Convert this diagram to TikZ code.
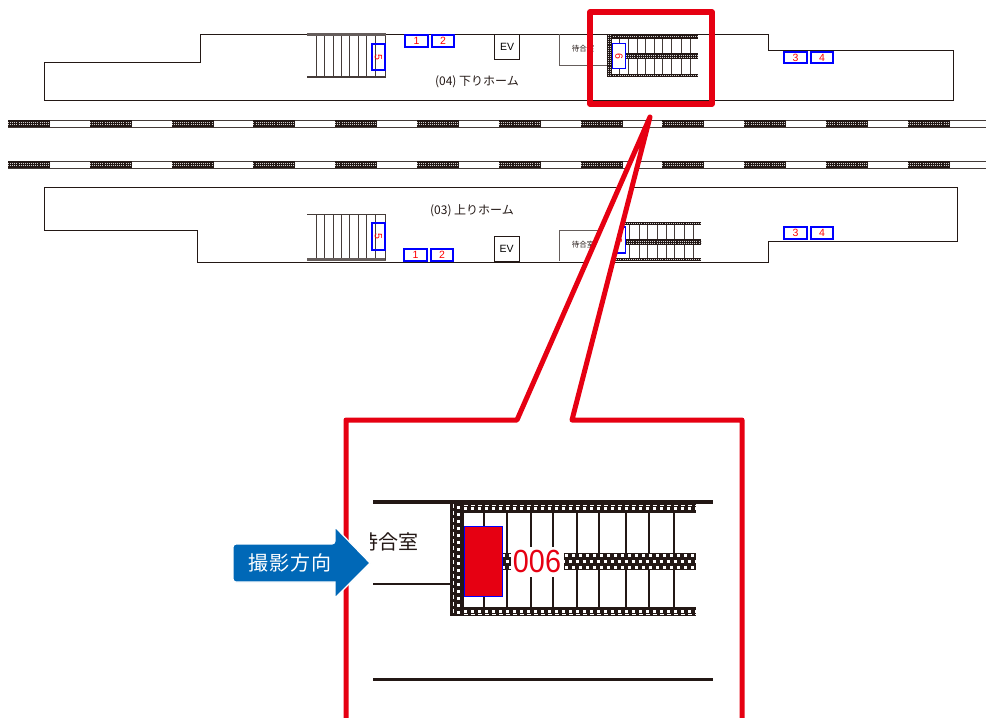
\documentclass[tikz,border=0pt]{standalone}
\usepackage{fontspec}
\setmainfont{Liberation Sans}
\newfontfamily\cjk{Noto Sans CJK JP}
\definecolor{ink}{HTML}{231815}
\definecolor{markred}{HTML}{E60012}
\definecolor{gateblue}{HTML}{0000FF}
\definecolor{arrowblue}{HTML}{0068B7}
\tikzset{
  wall/.style={draw=ink, line width=1},
  stairline/.style={ink!85, line width=0.9},
  gatebox/.style={draw=gateblue, line width=1.2, text=red, inner sep=0pt, font=\fontsize{10.5}{10.5}\selectfont},
  evbox/.style={draw=ink, line width=0.9, fill=white, inner sep=0pt, minimum width=25pt, minimum height=25pt, font=\fontsize{10.5}{10.5}\selectfont},
  roomtext/.style={text=ink, inner sep=0pt, font=\cjk\fontsize{7.5}{8}\selectfont},
  hometext/.style={text=ink, inner sep=0pt, font=\cjk\fontsize{12}{12}\selectfont},
  tinydots/.style={white!80!ink, line width=0.8, dash pattern=on 0.9pt off 1.2pt},
  bigdots/.style={white, line width=3, dash pattern=on 3pt off 4pt},
  edgedots/.style={white, line width=1, dash pattern=on 4pt off 3pt},
  redframe/.style={draw=markred, line width=5.5, line join=round},
}
\newcommand{\hband}[6]{%
  \fill[ink] (#1,#3) rectangle (#2,#4);
  \foreach \r in {#5} \draw[#6] (#1,\r) -- (#2,\r);}
\newcommand{\vband}[6]{%
  \fill[ink] (#1,#3) rectangle (#2,#4);
  \foreach \r in {#5} \draw[#6] (\r,#3) -- (\r,#4);}
\begin{document}
\begin{tikzpicture}[x=1pt,y=-1pt]
\useasboundingbox (0,0) rectangle (986,718);
% Platform Outlines
\draw[wall] (44,62) -- (200,62) -- (200,34) -- (768,34) -- (768,50) -- (953,50) -- (953,100) -- (44,100) -- cycle;
\draw[wall] (44,187) -- (957,187) -- (957,241) -- (768,241) -- (768,262) -- (197,262) -- (197,230) -- (44,230) -- cycle;
% Rails
\foreach \y in {120,161} {
  \draw[stairline] (8,\y) -- (986,\y);
  \draw[stairline] (8,\y+7) -- (986,\y+7);
  \foreach \i in {0,...,11} {
    \pgfmathsetmacro{\xa}{8+81.8*\i}
    \pgfmathsetmacro{\xb}{\xa+42}
    \hband{\xa}{\xb}{\y}{\y+7}{\y+2.2,\y+4.8}{tinydots}
  }
}
% Upper Platform, Left Stairs
\fill[ink!70] (307,33) rectangle (386,36);
\draw[stairline, line width=1.6] (307,77) -- (386,77);
\draw[stairline] (385.5,36) -- (385.5,78);
\foreach \x in {316,324,333,341,349,358,366,375} \draw[stairline] (\x,36) -- (\x,76);
\node[gatebox, minimum width=13pt, minimum height=26pt] (gateFive) at (378.5,57) {\rotatebox{-90}{5}};
% Upper Platform, Boxes
\node[gatebox, minimum width=23pt, minimum height=12pt] (gateOne) at (416.5,41) {1};
\node[gatebox, minimum width=22pt, minimum height=12pt] (gateTwo) at (443,41) {2};
\node[evbox] (evUp) at (507,46.5) {EV};
\node[gatebox, minimum width=23pt, minimum height=11pt] (gateThree) at (795.5,57.5) {3};
\node[gatebox, minimum width=22pt, minimum height=11pt] (gateFour) at (822,57.5) {4};
\node[hometext] (homeDown) at (477,82) {(04) 下りホーム};
% Upper Platform, Waiting Room
\draw[wall, draw=ink!70] (559,34) -- (559,65) -- (607,65);
\node[roomtext] (roomUp) at (583,49) {待合室};
% Upper Platform, Right Stairs
\foreach \x in {619,628,637,645,654,662,671,681,690} \draw[stairline] (\x,37) -- (\x,75);
\hband{607}{698}{35}{38.5}{36.7}{tinydots}
\hband{626}{698}{53}{59}{55,57.2}{tinydots}
\hband{607}{698}{73.5}{77}{75.2}{tinydots}
\vband{607}{612}{35}{77}{608.6,610.6}{tinydots}
\node[gatebox, fill=white, minimum width=13.5pt, minimum height=25pt] (gateSix) at (619,56) {\rotatebox{-90}{6}};
% Lower Platform, Left Stairs
\draw[stairline] (307,214) -- (386,214);
\fill[ink!70] (307,258) rectangle (386,261);
\draw[stairline] (385.5,214) -- (385.5,260);
\foreach \x in {316,324,333,341,349,358,366,375} \draw[stairline] (\x,215) -- (\x,258);
\node[gatebox, minimum width=13pt, minimum height=27pt] (gateFiveLow) at (378.5,236.5) {\rotatebox{-90}{5}};
% Lower Platform, Boxes
\node[gatebox, minimum width=23pt, minimum height=12pt] (gateOneLow) at (415.5,255) {1};
\node[gatebox, minimum width=22pt, minimum height=12pt] (gateTwoLow) at (442,255) {2};
\node[evbox] (evLow) at (506.5,248.5) {EV};
\node[gatebox, minimum width=23pt, minimum height=12pt] (gateThreeLow) at (795.5,233) {3};
\node[gatebox, minimum width=22pt, minimum height=12pt] (gateFourLow) at (822,233) {4};
\node[hometext] (homeUp) at (472,211) {(03) 上りホーム};
% Lower Platform, Waiting Room
\draw[wall, draw=ink!70] (559,261) -- (559,230) -- (617,230);
\node[roomtext] (roomLow) at (583,245) {待合室};
% Lower Platform, Right Stairs
\foreach \x in {629,639,647,657,666,674,684,693} \draw[stairline] (\x,223) -- (\x,259);
\hband{612}{701}{221.5}{225}{223.2}{tinydots}
\hband{625}{701}{239}{245}{241,243.2}{tinydots}
\hband{612}{701}{258}{261}{259.5}{tinydots}
\vband{607}{612}{221.5}{261}{608.6,610.6}{tinydots}
\node[gatebox, fill=white, minimum width=13.5pt, minimum height=26pt] (gateSixLow) at (618.5,240) {\rotatebox{-90}{6}};
% Marker and Callout
\draw[redframe] (590,12) rectangle (712,104);
\draw[redframe, line width=5, fill=white] (346,718) -- (346,420) -- (517,420) -- (650,117) -- (572,420) -- (742,420) -- (742,718);
% Enlarged View
\draw[ink, line width=4] (373,502) -- (713,502);
\draw[ink, line width=3] (373,679) -- (713,679);
\draw[ink, line width=1.3] (373,584) -- (450,584);
\begin{scope}
  \clip (370,520) rectangle (440,570);
  \node[text=ink, inner sep=0pt, font=\cjk\fontsize{20}{20}\selectfont] (roomBig) at (388,542) {待合室};
\end{scope}
\foreach \x in {484,507,531,553,577,599,626,649,674} \draw[ink, line width=1.5] (\x,513) -- (\x,607);
\hband{450}{696}{504}{513}{505.5}{edgedots}
\draw[bigdots] (464,508.5) -- (696,508.5);
\hband{502}{696}{553}{570}{555}{bigdots}
\draw[bigdots, dash phase=3.5pt] (502,561.5) -- (696,561.5);
\draw[bigdots] (502,567.5) -- (696,567.5);
\hband{450}{696}{607}{616}{614.5}{edgedots}
\draw[bigdots] (464,611) -- (696,611);
\vband{450}{464}{504}{616}{453}{edgedots}
\draw[bigdots] (458,506) -- (458,614);
\node[fill=white, text=markred, inner sep=0pt, minimum width=53pt, minimum height=30pt, font=\fontsize{32}{32}\selectfont] (numberBig) at (537,561.5) {\scalebox{0.9}[1]{006}};
\node[draw=gateblue, fill=markred, line width=1, inner sep=0pt, minimum width=38pt, minimum height=70pt] (cameraBox) at (483,561) {};
% Direction Arrow
\draw[white, line width=1.2, fill=arrowblue, rounded corners=3pt] (233,544) -- (335,544) [sharp corners] -- (335,527) -- (370,563) -- (335,598) -- (335,582) [rounded corners=3pt] -- (233,582) -- cycle;
\node[text=white, inner sep=0pt, font=\cjk\fontsize{20}{20}\selectfont] (arrowText) at (290,563) {撮\kern1pt 影\kern1pt 方\kern1pt 向};
\end{tikzpicture}
\end{document}
